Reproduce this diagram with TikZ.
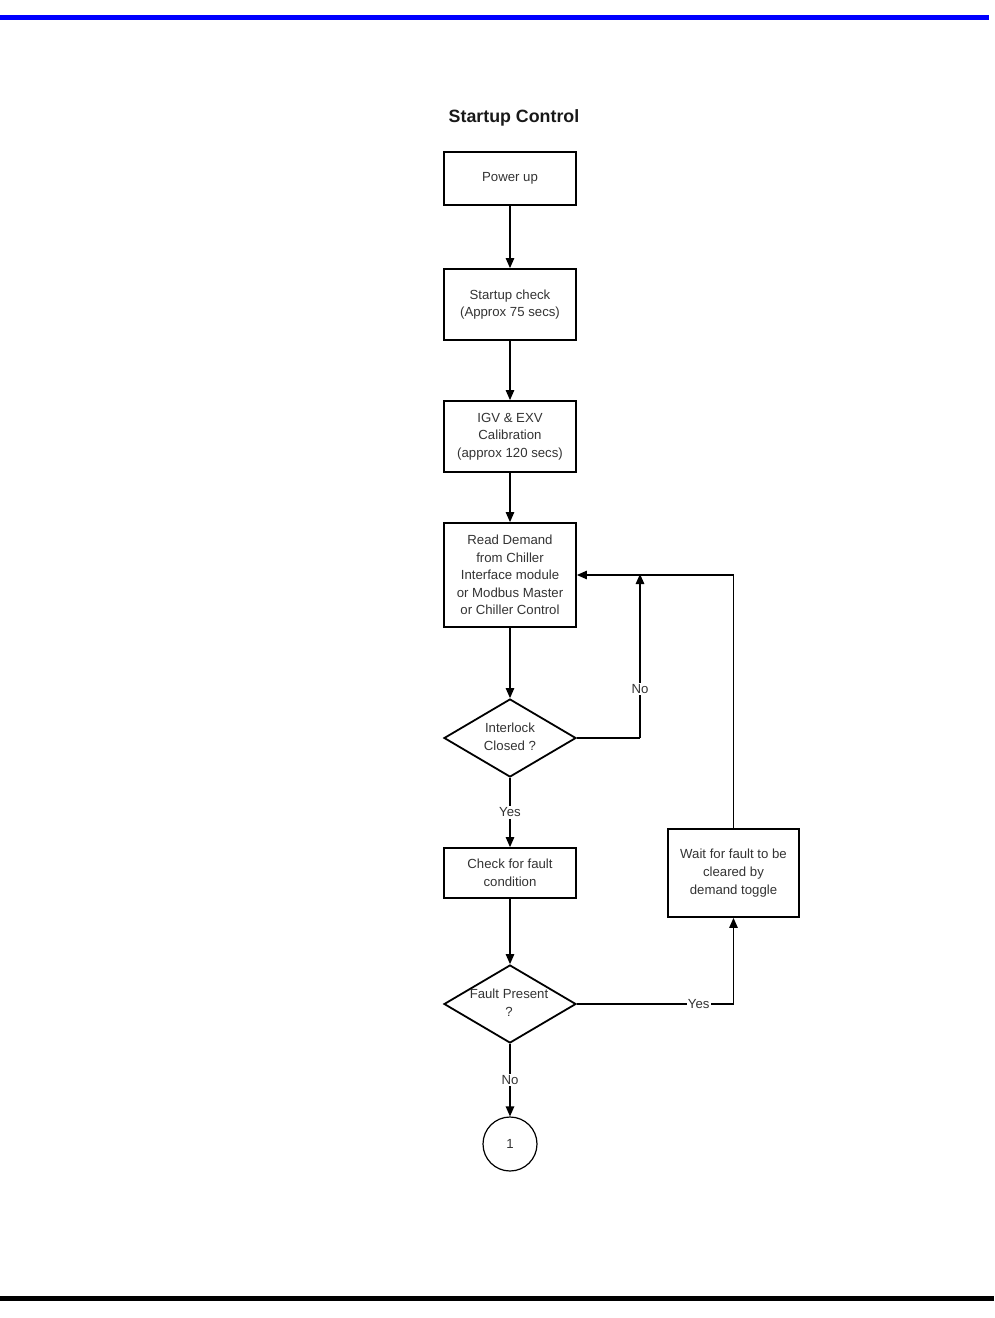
\documentclass[tikz,border=0pt]{standalone}
\usepackage{fontspec}
\setmainfont{Liberation Sans}
\usetikzlibrary{shapes.geometric,arrows.meta}
\begin{document}
\begin{tikzpicture}[x=1pt,y=-1pt,
  every node/.style={font=\fontsize{13.2}{17.6}\selectfont, text=black!80, align=center},
  procbox/.style={draw=black, line width=1.8pt, minimum width=132pt, inner sep=0pt},
  decbox/.style={draw=black, shape=diamond, line width=1.8pt, minimum width=132pt, minimum height=78pt, inner sep=0pt},
  conn/.style={draw=black, line width=1.2pt},
  arr/.style={conn, -{Triangle[length=10pt,width=8.5pt]}},
  lbl/.style={fill=white, inner sep=1.5pt}]
\useasboundingbox (0,0) rectangle (994,1318);
\fill[blue] (0,15) rectangle (989,20);
\fill[black] (0,1296) rectangle (994,1301);

\node[font=\bfseries\fontsize{17.8}{20}\selectfont, text=black!90] (title) at (514,118) {Startup Control};

\node[procbox, minimum height=53pt] (pu) at (510,178.5) {Power up};
\node[procbox, minimum height=71pt] (sc) at (510,304.5) {Startup check\\(Approx 75 secs)};
\node[procbox, minimum height=71pt] (igv) at (510,436.5) {IGV \& EXV\\Calibration\\(approx 120 secs)};
\node[procbox, minimum height=104pt] (rd) at (510,575) {Read Demand\\from Chiller\\Interface module\\or Modbus Master\\or Chiller Control};
\node[decbox] (il) at (510,738) {};
\node (iltxt) at (510,737) {Interlock\\Closed ?};
\node[procbox, minimum height=50pt] (cf) at (510,873) {Check for fault\\condition};
\node[decbox] (fp) at (510,1004) {};
\node (fptxt) at (509,1003) {Fault Present\\?};
\node[draw=black, circle, line width=1.2pt, minimum size=54pt, inner sep=0pt] (c1) at (510,1144) {1};
\node[procbox, minimum width=131pt, minimum height=88pt] (wf) at (733.5,873) {Wait for fault to be\\cleared by\\demand toggle};

\coordinate (noc) at (640,738);
\coordinate (notop) at (640,575);
\coordinate (wtop) at (733.5,575);
\coordinate (ycorner) at (733.5,1004);

\draw[arr] (pu) -- (sc);
\draw[arr] (sc) -- (igv);
\draw[arr] (igv) -- (rd);
\draw[arr] (rd) -- (il);
\draw[arr] (il) -- node[lbl, pos=0.5] (yes1) {Yes} (cf);
\draw[arr] (cf) -- (fp);
\draw[arr] (fp) -- node[lbl, pos=0.5] (no2) {No} (c1);
\draw[conn] (il.east) -- (noc);
\draw[arr] (noc) -- node[lbl, pos=0.3] (no1) {No} ([yshift=1pt]notop);
\draw[conn] (wf.north) -- (wtop);
\draw[arr] (wtop) -- (rd.east);
\draw[conn] (fp.east) -- node[lbl, pos=0.778, inner sep=1pt] (yes2) {Yes} (ycorner);
\draw[arr] (ycorner) -- (wf.south);
\end{tikzpicture}
\end{document}
